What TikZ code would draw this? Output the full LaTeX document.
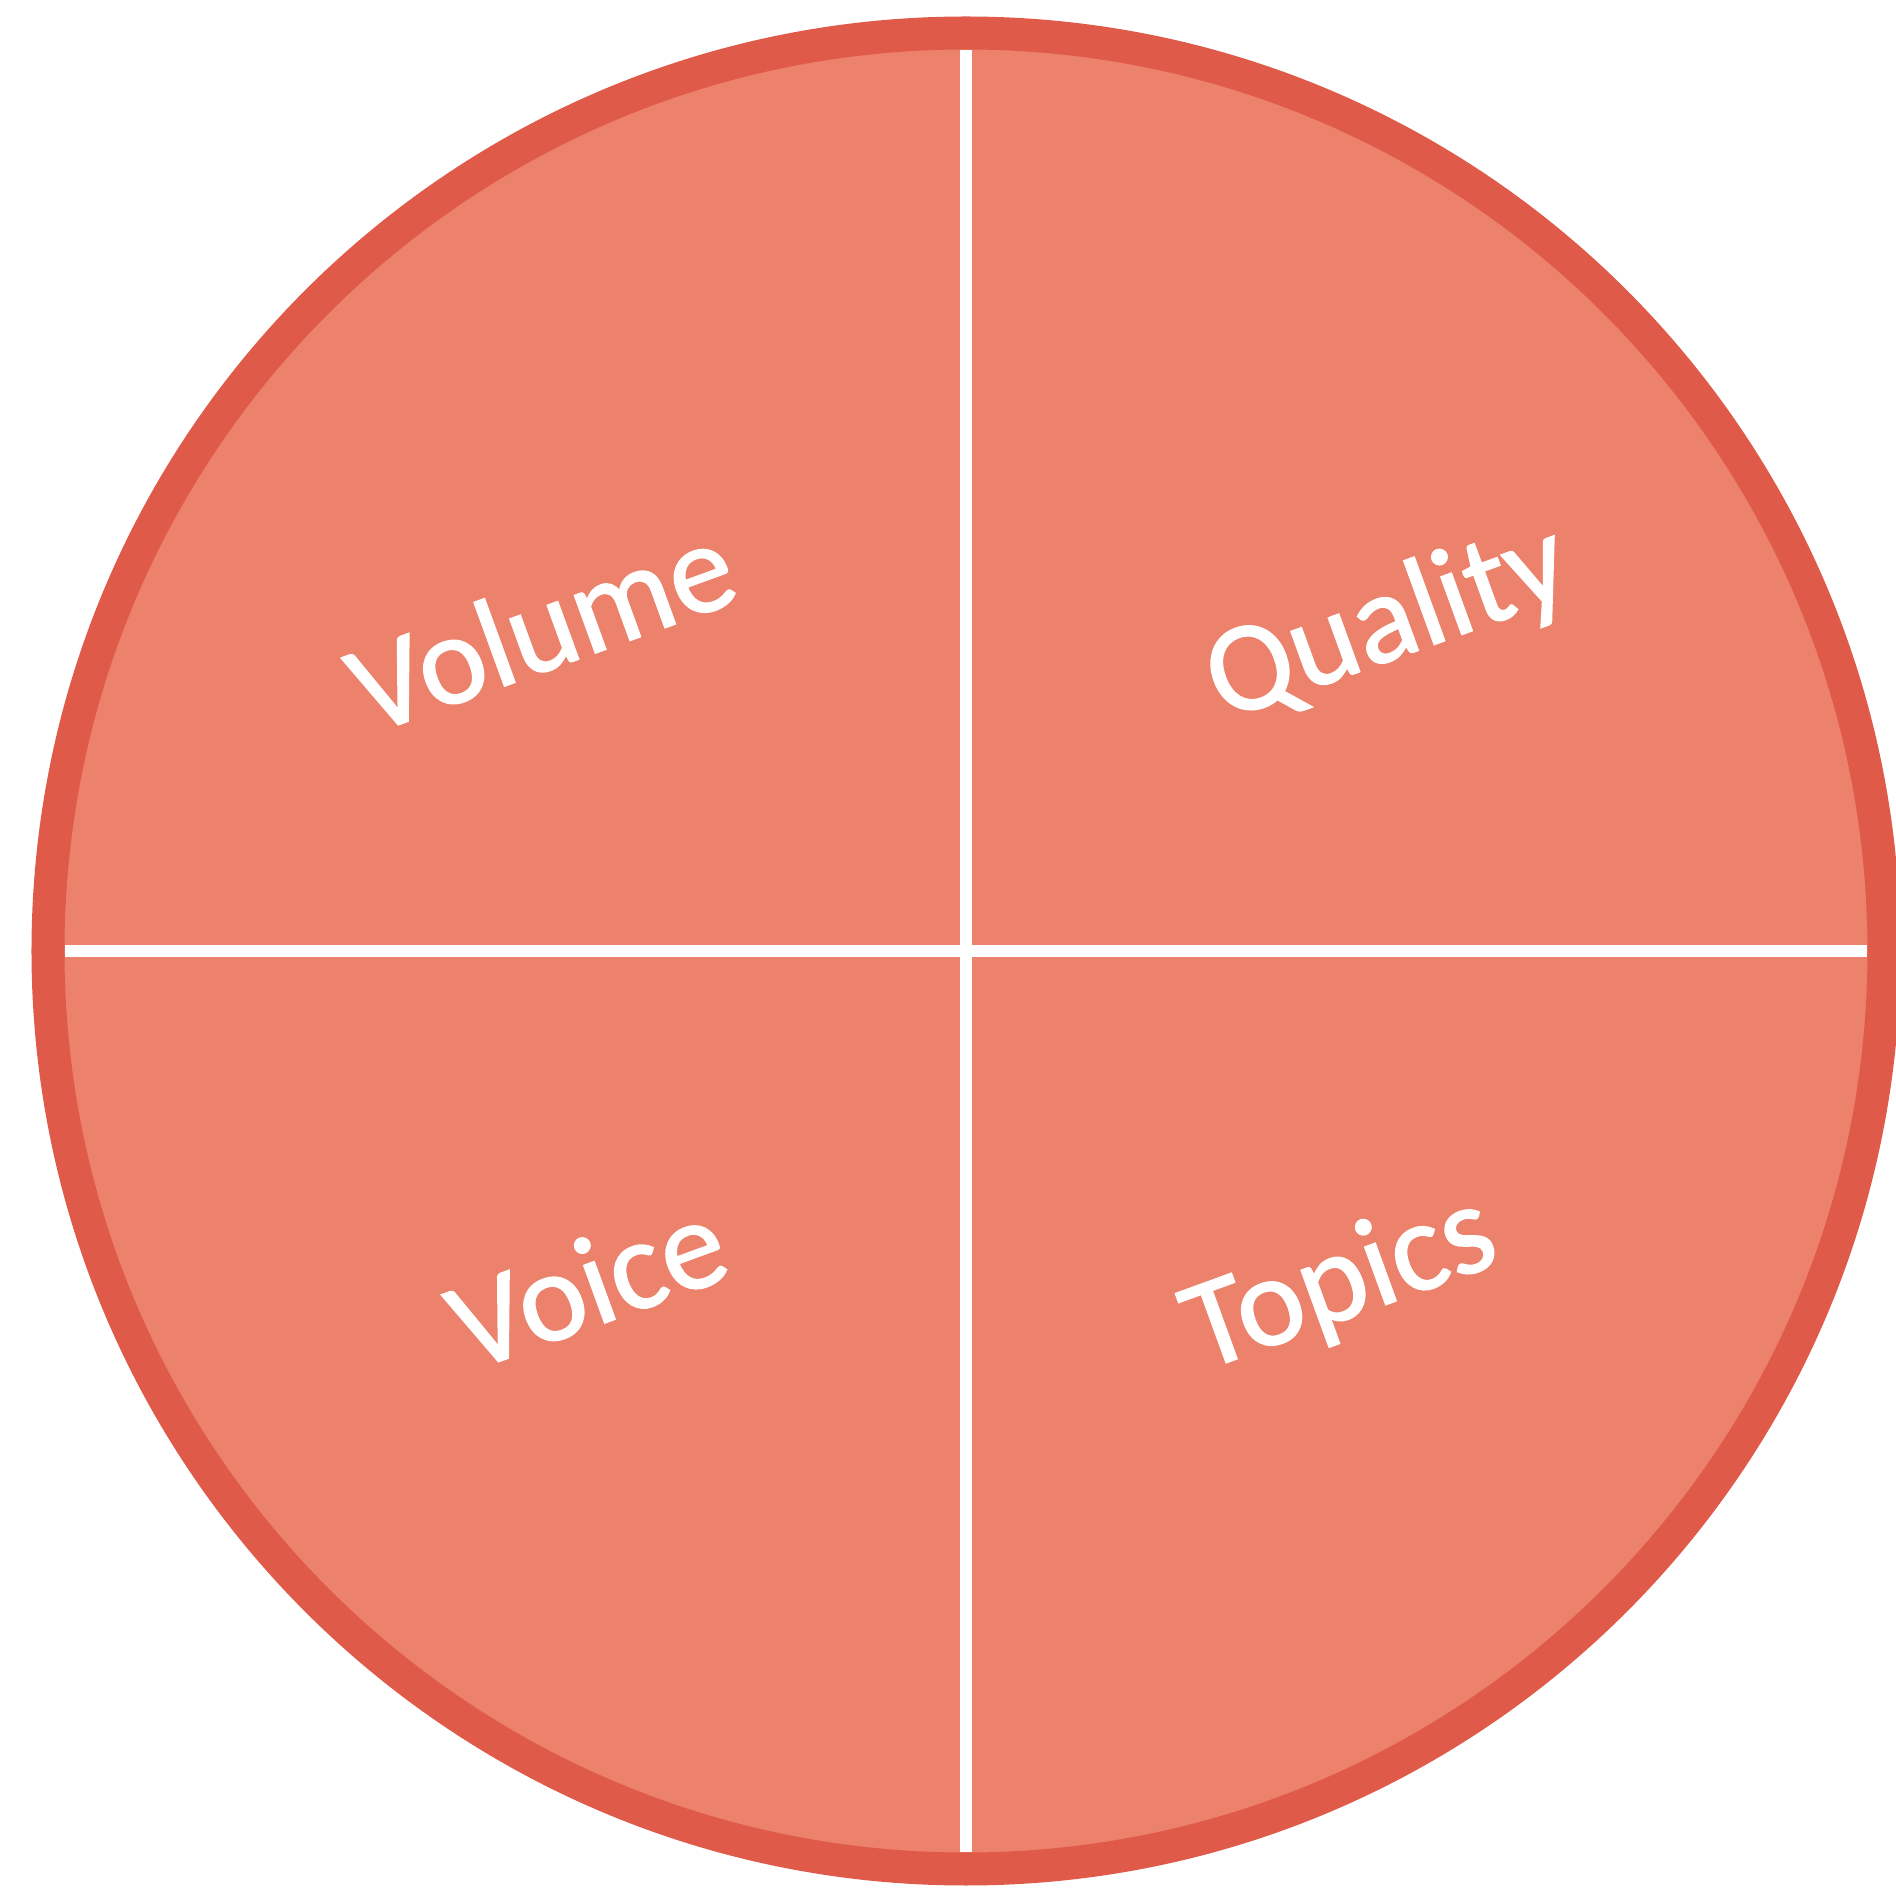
\documentclass[tikz,border=0pt]{standalone}
\usepackage{fontspec}
\setmainfont{Carlito}
\newfontfamily\partfont[FakeBold=1.2]{Carlito}
\usepackage{xcolor}
\usepackage{tikz}
\usetikzlibrary{positioning}

\definecolor{pieFill}{RGB}{236,129,108}
\definecolor{pieRing}{RGB}{224,90,73}

\begin{document}
\begin{tikzpicture}[
  every node/.style={font=\partfont\fontsize{36.5}{42}\selectfont, text=white},
  part/.style={rotate=20, inner sep=0pt},
  cut/.style={white, line width=0.12cm}
]
  \useasboundingbox (-9.66,-9.37) rectangle (9.30,9.51);

  \coordinate (c) at (0,0);
  \fill[pieFill] (c) circle (9.18);

  % quarter cuts
  \draw[cut] (0,9.01) -- (0,-9.01);
  \draw[cut] (-9.01,0) -- (9.01,0);

  \draw[pieRing, line width=0.33cm] (c) circle (9.18);

  \node[part] (volume)  at (-4.25,3.25)  {Volume};
  \node[part] (quality) at (4.22,3.26)   {Quality};
  \node[part] (voice)   at (-3.79,-3.32) {Voice};
  \node[part] (topics)  at (3.75,-3.34)  {Topics};
\end{tikzpicture}
\end{document}
